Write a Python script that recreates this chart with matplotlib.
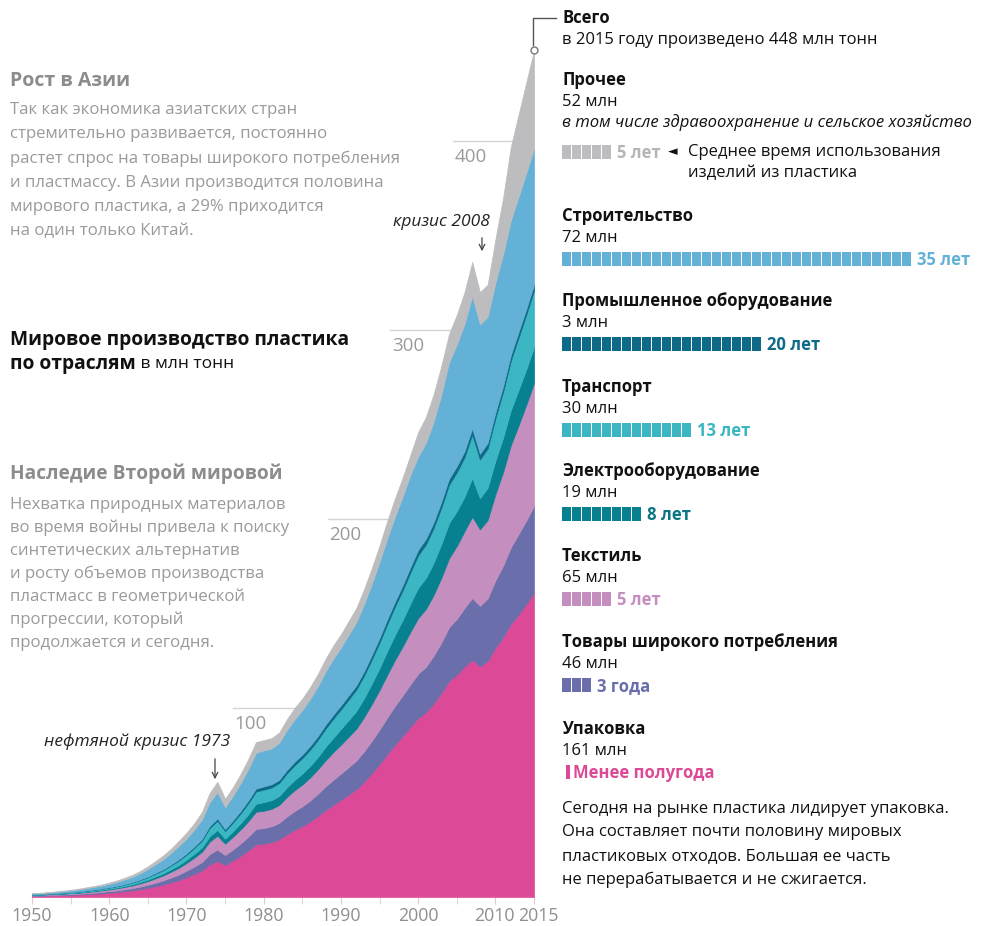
import matplotlib.pyplot as plt
from matplotlib.patches import Rectangle

plt.rcParams['font.family'] = ['Open Sans', 'DejaVu Sans']

# Data: world plastic production by sector, million tonnes
years = list(range(1950, 2016))
packaging = [0.6, 0.7, 0.8, 0.9, 1.0, 1.1, 1.3, 1.5, 1.7, 2.0,
             2.3, 2.6, 3.1, 3.5, 4.1, 4.9, 5.7, 6.6, 7.7, 8.9,
             10.5, 12.2, 14.0, 17.2, 19.0, 17.0, 19.3, 21.8, 24.6, 27.8,
             28.2, 29.0, 30.5, 33.2, 35.5, 37.5, 39.9, 42.8, 45.9, 48.7,
             51.4, 54.2, 57.0, 61.0, 65.5, 70.3, 75.6, 80.6, 85.2, 90.1,
             94.7, 97.7, 102.4, 108.0, 114.3, 117.6, 121.9, 125.5, 122.0, 125.0,
             132.0, 137.5, 144.5, 149.5, 155.0, 161.0]
consumer = [0.2, 0.2, 0.3, 0.3, 0.3, 0.4, 0.4, 0.5, 0.6, 0.7,
            0.8, 0.9, 1.0, 1.2, 1.4, 1.6, 1.9, 2.2, 2.6, 3.0,
            3.4, 3.9, 4.5, 5.5, 6.1, 5.2, 5.8, 6.5, 7.3, 8.2,
            8.3, 8.4, 8.7, 9.4, 10.0, 10.5, 11.1, 11.8, 12.6, 13.3,
            13.9, 14.5, 15.2, 16.1, 17.2, 18.3, 19.4, 20.5, 21.5, 22.5,
            23.4, 24.1, 25.2, 26.6, 28.4, 29.6, 31.0, 32.7, 32.0, 33.0,
            35.5, 37.8, 40.5, 42.5, 44.2, 46.0]
textiles = [0.2, 0.3, 0.3, 0.3, 0.4, 0.5, 0.5, 0.6, 0.7, 0.8,
            0.9, 1.1, 1.2, 1.4, 1.7, 1.9, 2.3, 2.6, 3.1, 3.5,
            4.1, 4.7, 5.4, 6.6, 7.3, 6.0, 6.7, 7.4, 8.2, 9.1,
            9.1, 9.2, 9.5, 10.3, 11.0, 11.5, 12.2, 12.9, 13.8, 14.6,
            15.3, 16.1, 16.9, 18.1, 19.4, 20.9, 22.6, 24.3, 25.9, 27.7,
            29.5, 30.6, 32.2, 34.3, 36.5, 38.5, 40.6, 43.0, 40.5, 41.5,
            45.5, 49.5, 54.0, 57.5, 61.2, 65.0]
electrical = [0.1, 0.1, 0.1, 0.2, 0.2, 0.2, 0.2, 0.3, 0.3, 0.3,
              0.4, 0.4, 0.5, 0.6, 0.7, 0.8, 1.0, 1.1, 1.3, 1.5,
              1.7, 2.0, 2.3, 2.8, 3.1, 2.6, 2.9, 3.3, 3.7, 4.2,
              4.6, 4.6, 4.7, 5.1, 5.4, 5.8, 6.1, 6.5, 7.1, 7.6,
              8.3, 8.8, 9.3, 10.0, 10.8, 11.6, 12.5, 13.3, 14.0, 15.0,
              16.0, 16.4, 17.0, 17.8, 18.6, 18.4, 18.2, 20.5, 16.5, 17.0,
              17.8, 18.2, 18.5, 18.7, 18.8, 19.0]
transport = [0.2, 0.2, 0.2, 0.2, 0.3, 0.3, 0.4, 0.4, 0.5, 0.5,
             0.6, 0.7, 0.8, 0.9, 1.1, 1.3, 1.5, 1.8, 2.0, 2.4,
             2.7, 3.1, 3.6, 4.4, 4.9, 4.1, 4.6, 5.2, 5.8, 6.5,
             6.6, 6.7, 6.9, 7.4, 7.8, 8.2, 8.6, 9.1, 9.6, 10.1,
             10.4, 10.9, 11.4, 12.0, 12.8, 13.5, 14.3, 15.0, 15.7, 16.5,
             17.2, 17.7, 18.4, 19.3, 20.3, 20.6, 21.0, 23.0, 20.5, 20.8,
             22.5, 24.3, 26.3, 27.8, 28.9, 30.0]
industrial = [0.04, 0.04, 0.05, 0.06, 0.07, 0.08, 0.09, 0.1, 0.11, 0.13,
              0.15, 0.18, 0.2, 0.24, 0.28, 0.32, 0.38, 0.44, 0.51, 0.59,
              0.7, 0.8, 0.9, 1.1, 1.2, 1.0, 1.2, 1.3, 1.5, 1.6,
              1.7, 1.7, 1.7, 1.8, 1.9, 1.9, 2.0, 2.0, 2.1, 2.1,
              2.1, 2.2, 2.2, 2.3, 2.4, 2.5, 2.6, 2.6, 2.7, 2.8,
              3.0, 3.0, 3.0, 3.1, 3.2, 3.2, 3.2, 3.3, 3.0, 3.0,
              3.0, 3.0, 3.0, 3.0, 3.0, 3.0]
construction = [0.5, 0.5, 0.6, 0.7, 0.8, 0.9, 1.1, 1.2, 1.4, 1.6,
                1.8, 2.1, 2.5, 2.8, 3.3, 3.9, 4.6, 5.3, 6.1, 7.1,
                7.8, 8.9, 10.3, 12.5, 13.9, 11.6, 13.0, 14.6, 16.6, 18.9,
                19.1, 19.0, 19.6, 21.1, 22.4, 23.5, 24.8, 26.3, 28.1, 29.6,
                30.6, 32.0, 33.4, 35.5, 37.6, 40.2, 42.8, 45.0, 46.9, 48.8,
                49.2, 50.8, 53.2, 56.6, 61.7, 64.4, 67.3, 70.0, 68.5, 66.7,
                68.7, 69.7, 71.2, 71.5, 71.9, 72.0]
other = [0.2, 0.2, 0.2, 0.3, 0.3, 0.3, 0.4, 0.5, 0.5, 0.6,
         0.7, 0.8, 0.9, 1.1, 1.2, 1.5, 1.7, 2.0, 2.3, 2.7,
         3.1, 3.4, 4.0, 4.9, 5.5, 4.5, 4.5, 4.9, 5.3, 5.7,
         5.4, 5.4, 5.4, 5.7, 6.0, 6.1, 6.3, 6.6, 6.8, 7.0,
         7.0, 7.3, 7.6, 8.0, 8.3, 8.7, 9.2, 9.7, 10.1, 10.6,
         13.0, 13.7, 14.6, 15.3, 15.0, 15.7, 16.8, 18.0, 17.0, 17.0,
         23.0, 30.0, 39.0, 43.5, 48.0, 52.0]

sector_names = ['Упаковка', 'Товары широкого потребления', 'Текстиль', 'Электрооборудование',
                'Транспорт', 'Промышленное оборудование', 'Строительство', 'Прочее']
sector_2015 = ['161 млн', '46 млн', '65 млн', '19 млн', '30 млн', '3 млн', '72 млн', '52 млн']
lifespans = [0.5, 3, 5, 8, 13, 20, 35, 5]
lifespan_labels = ['Менее полугода', '3 года', '5 лет', '8 лет', '13 лет', '20 лет', '35 лет', '5 лет']
colors = ['#dc4a97', '#6a6eaa', '#c48fbe', '#07808f', '#3cb6c2', '#0e6a86', '#63b1d6', '#bdbdbf']
label_colors = ['#dc4a97', '#6a6eaa', '#c48fbe', '#0b7585', '#3cb6c2', '#0e6a86', '#63b1d6', '#b5b5b7']

grid_values = [100, 200, 300, 400]
grid_starts = [1976.0, 1988.3, 1996.4, 2004.5]
tick_years = [1950, 1960, 1970, 1980, 1990, 2000, 2010, 2015]

W, H = 992, 926
fig = plt.figure(figsize=(W / 100, H / 100), dpi=100)
fig.patch.set_facecolor('white')

# main area chart: 1950 -> x=32px, 2015 -> x=534px, 0 -> y=897px, 1.89 px per Mt
ax = fig.add_axes([32 / W, (H - 897) / H, 502 / W, 897 / H])
ax.set_xlim(1950, 2015)
ax.set_ylim(0, 897 / 1.89)

for v, x0 in zip(grid_values, grid_starts):
    ax.plot([x0, 2015], [v, v], color='#d4d4d4', lw=1, zorder=0)
    ax.annotate(str(v), (x0, v), xytext=(1, -5), textcoords='offset points',
                ha='left', va='top', fontsize=13.5, color='#9a9a9a')

polys = ax.stackplot(years, packaging, consumer, textiles, electrical, transport,
                     industrial, construction, other, colors=colors, zorder=2)
for p, c in zip(polys, colors):
    p.set_edgecolor(c)
    p.set_linewidth(0.5)

total = [sum(v) for v in zip(packaging, consumer, textiles, electrical, transport,
                             industrial, construction, other)]
ax.plot(years[-1], total[-1], 'o', ms=5, mfc='white', mec='#777777', mew=1, zorder=5, clip_on=False)

for s in ax.spines.values():
    s.set_visible(False)
ax.set_yticks([])
ax.set_xticks(tick_years)
ax.set_xticklabels([])
ax.set_xticks(range(1955, 2015, 10), minor=True)
ax.tick_params(axis='x', which='both', length=5, color='#e3c8d6')
ax.axhline(0, color='#e8d0dc', lw=0.8, zorder=3)
# year labels, the last one nudged right so it clears 2010
for yr in tick_years:
    dx = 3 if yr == 2015 else (-1 if yr == 2010 else 0)
    ax.annotate(str(yr), (yr, 0), xytext=(dx, -7), textcoords='offset points',
                ha='center', va='top', fontsize=12.8, color='#8f8f8f', annotation_clip=False)

# overlay in pixel coordinates for texts and lifespan bars
ov = fig.add_axes([0, 0, 1, 1])
ov.set_xlim(0, W)
ov.set_ylim(H, 0)
ov.axis('off')
ov.patch.set_alpha(0)

grey_head = '#8c8c8c'
grey_body = '#9a9a9a'
fs = 12

ov.text(10, 81, 'Рост в Азии', fontsize=14, fontweight='bold', color=grey_head, va='center')
asia = ['Так как экономика азиатских стран', 'стремительно развивается, постоянно',
        'растет спрос на товары широкого потребления', 'и пластмассу. В Азии производится половина',
        'мирового пластика, а 29% приходится', 'на один только Китай.']
for i, line in enumerate(asia):
    ov.text(10, 110 + i * 24.2, line, fontsize=12.1, color=grey_body, va='center')

ov.text(10, 340, 'Мировое производство пластика', fontsize=13.9, fontweight='bold', color='#111111', va='center')
t = ov.text(10, 364, 'по отраслям', fontsize=13.9, fontweight='bold', color='#111111', va='center')
ov.annotate(' в млн тонн', xycoords=t, xy=(1, 0.5), va='center', fontsize=12.5, color='#111111')

ov.text(10, 474, 'Наследие Второй мировой', fontsize=13.8, fontweight='bold', color=grey_head, va='center')
war = ['Нехватка природных материалов', 'во время войны привела к поиску',
       'синтетических альтернатив', 'и росту объемов производства',
       'пластмасс в геометрической', 'прогрессии, который', 'продолжается и сегодня.']
for i, line in enumerate(war):
    ov.text(10, 505 + i * 23.0, line, fontsize=12.1, color=grey_body, va='center')

# event notes
ov.text(490, 222, 'кризис 2008', fontsize=12.5, style='italic', ha='right', va='center', color='#222222')
ov.annotate('', xy=(482, 254), xytext=(482, 235),
            arrowprops=dict(arrowstyle='->', color='#444444', lw=0.9))
ov.text(230, 742, 'нефтяной кризис 1973', fontsize=12.5, style='italic', ha='right', va='center', color='#222222')
ov.annotate('', xy=(215, 782), xytext=(215, 756),
            arrowprops=dict(arrowstyle='->', color='#444444', lw=0.9))

# total bracket
ov.plot([533, 533, 556], [45, 18, 18], color='#555555', lw=1)
ov.text(562, 18, 'Всего', fontsize=fs, fontweight='bold', color='#111111', va='center')
ov.text(562, 40, 'в 2015 году произведено 448 млн тонн', fontsize=fs, color='#111111', va='center')

# legend blocks, from top (Прочее) to bottom (Упаковка)
tops = [729, 642, 556, 471, 387, 301, 216, 80]
for k in range(len(sector_names)):
    y0 = tops[k]
    ov.text(562, y0, sector_names[k], fontsize=fs, fontweight='bold', color='#111111', va='center')
    ov.text(562, y0 + 22, sector_2015[k], fontsize=fs, color='#111111', va='center')
    by = y0 + 43 if k != 7 else y0 + 72
    n = lifespans[k]
    if n < 1:
        ov.add_patch(Rectangle((566, by - 7), 3.5, 14, color=colors[k], lw=0))
        lx = 573
    else:
        for i in range(int(n)):
            ov.add_patch(Rectangle((562 + i * 10, by - 7), 9, 14, color=colors[k], lw=0))
        lx = 562 + int(n) * 10 + 5
    ov.text(lx, by + 1, lifespan_labels[k], fontsize=fs, fontweight='bold',
            color=label_colors[k], va='center')

ov.text(562, 123, 'в том числе здравоохранение и сельское хозяйство', fontsize=fs,
        style='italic', color='#111111', va='center')
ov.text(668, 152, '◄', fontsize=9, color='#111111', va='center', family=['DejaVu Sans'])
ov.text(688, 152, 'Среднее время использования', fontsize=fs, color='#111111', va='center')
ov.text(688, 173, 'изделий из пластика', fontsize=fs, color='#111111', va='center')

note = ['Сегодня на рынке пластика лидирует упаковка.', 'Она составляет почти половину мировых',
        'пластиковых отходов. Большая ее часть', 'не перерабатывается и не сжигается.']
for i, line in enumerate(note):
    ov.text(562, 809 + i * 23.5, line, fontsize=fs, color='#111111', va='center')

fig.savefig('out.png', dpi=100, facecolor='white')
